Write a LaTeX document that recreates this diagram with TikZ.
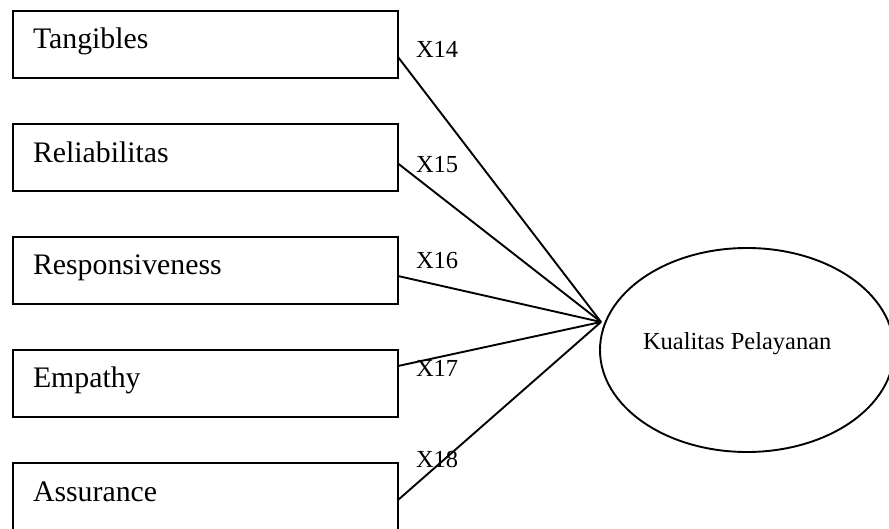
\documentclass[tikz,border=0pt]{standalone}
\usepackage{fontspec}
\setmainfont{Liberation Serif}
\usetikzlibrary{shapes.geometric}
\begin{document}
\begin{tikzpicture}[x=1pt,y=-1pt,
  every node/.style={inner sep=0pt, outer sep=0pt},
  dimbox/.style={draw, line width=1.9pt, minimum width=385pt, minimum height=67pt, anchor=north west},
  dimtext/.style={anchor=base west, font=\fontsize{29.8}{32}\selectfont},
  coef/.style={anchor=base west, font=\fontsize{24.5}{27}\selectfont},
  link/.style={line width=1.9pt}]
\useasboundingbox (0,0) rectangle (889,529);

% service-quality dimensions
\node[dimbox] (b1) at (13,11) {};
\node[dimbox] (b2) at (13,124) {};
\node[dimbox] (b3) at (13,237) {};
\node[dimbox] (b4) at (13,350) {};
\node[dimbox, minimum height=70pt] (b5) at (13,463) {};

\node[dimtext] (t1) at (33,49) {Tangibles};
\node[dimtext] (t2) at (33,163) {Reliabilitas};
\node[dimtext] (t3) at (33,275) {Responsiveness};
\node[dimtext] (t4) at (33,388) {Empathy};
\node[dimtext] (t5) at (33,501) {Assurance};

% latent construct
\node[draw, ellipse, line width=1.9pt, minimum width=294pt, minimum height=204pt] (kp) at (747,350) {};
\node[anchor=base west, font=\fontsize{24.5}{27}\selectfont] (kpt) at (643,349) {Kualitas Pelayanan};

\coordinate (hub) at (601,322);

% indicator paths
\draw[link] ([yshift=-12.5pt]b1.east) -- (hub);
\draw[link] ([yshift=-6pt]b2.east) -- (hub);
\draw[link] ([yshift=-5.5pt]b3.east) -- (hub);
\draw[link] ([yshift=17.5pt]b4.east) -- (hub);
\draw[link] ([yshift=-2pt]b5.east) -- (hub);

% indicator labels
\node[coef] (x14) at (416,58) {X14};
\node[coef] (x15) at (416,173) {X15};
\node[coef] (x16) at (416,269) {X16};
\node[coef] (x17) at (416,376) {X17};
\node[coef] (x18) at (416,467) {X18};
\end{tikzpicture}
\end{document}
